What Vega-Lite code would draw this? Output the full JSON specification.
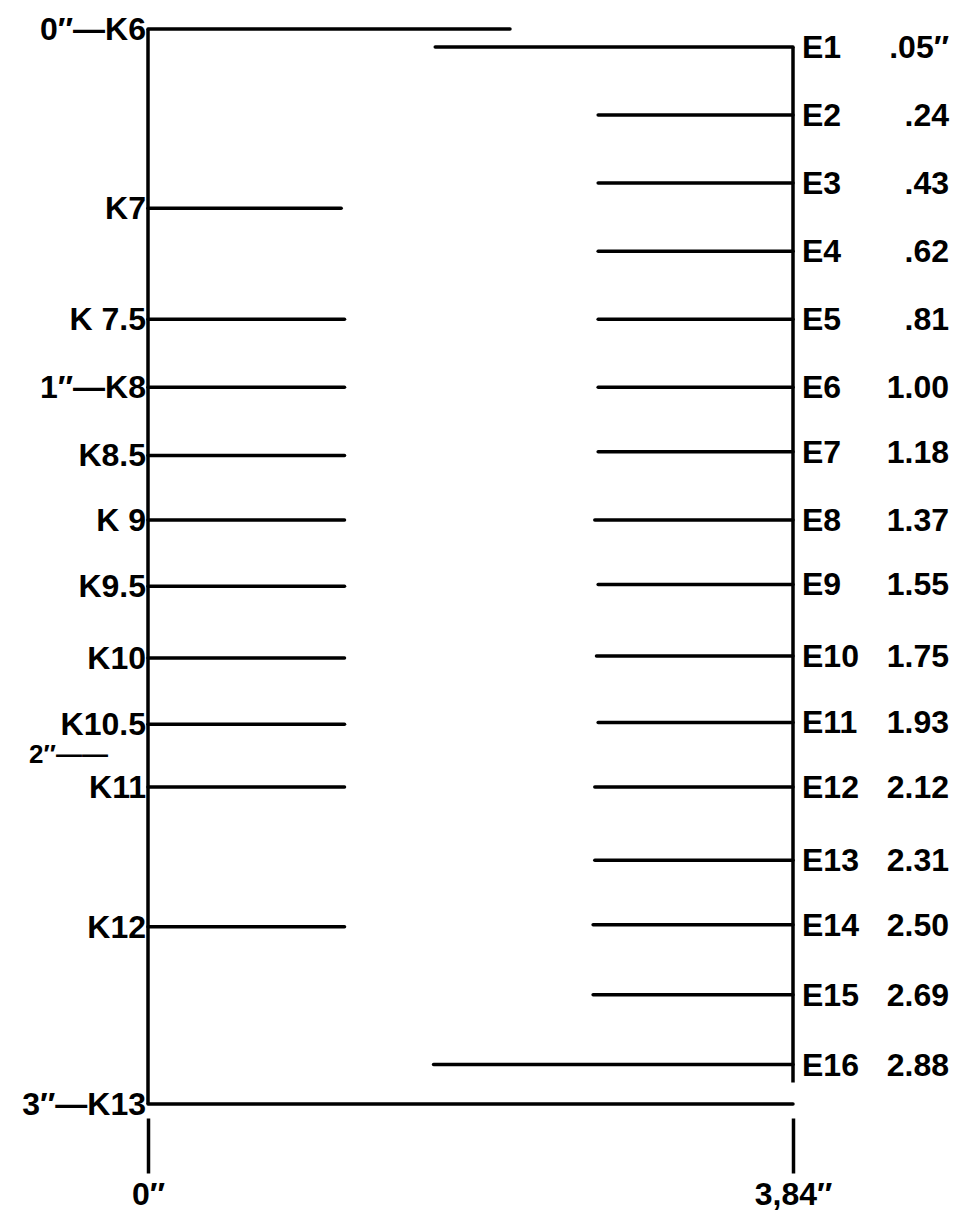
{
  "$schema": "https://vega.github.io/schema/vega-lite/v6.json",
  "autosize": {"type": "none"},
  "padding": {"left": 148, "top": 29, "right": 183, "bottom": 122},
  "width": 645,
  "height": 1075,
  "background": "white",
  "config": {
    "view": {"stroke": null},
    "text": {"font": "Liberation Sans", "fontWeight": "bold", "fontSize": 32, "color": "black", "baseline": "middle"},
    "rule": {"color": "black", "strokeWidth": 3.5}
  },
  "datasets": {
    "k": [
      {"label": "0″—K6", "y": 0, "x0": 0, "x1": 2.155},
      {"label": "K7", "y": 0.5, "x0": 0, "x1": 1.15},
      {"label": "K 7.5", "y": 0.81, "x0": 0, "x1": 1.17},
      {"label": "1″—K8", "y": 1.0, "x0": 0, "x1": 1.17},
      {"label": "K8.5", "y": 1.19, "x0": 0, "x1": 1.17},
      {"label": "K 9", "y": 1.37, "x0": 0, "x1": 1.17},
      {"label": "K9.5", "y": 1.555, "x0": 0, "x1": 1.17},
      {"label": "K10", "y": 1.755, "x0": 0, "x1": 1.17},
      {"label": "K10.5", "y": 1.94, "x0": 0, "x1": 1.17},
      {"label": "K11", "y": 2.115, "x0": 0, "x1": 1.17},
      {"label": "K12", "y": 2.505, "x0": 0, "x1": 1.17},
      {"label": "3″—K13", "y": 3.0, "x0": 0, "x1": 3.84}
    ],
    "e": [
      {"label": "E1", "value": ".05″", "y": 0.05, "x0": 1.71, "x1": 3.84},
      {"label": "E2", "value": ".24", "y": 0.24, "x0": 2.68, "x1": 3.84},
      {"label": "E3", "value": ".43", "y": 0.43, "x0": 2.68, "x1": 3.84},
      {"label": "E4", "value": ".62", "y": 0.62, "x0": 2.68, "x1": 3.84},
      {"label": "E5", "value": ".81", "y": 0.81, "x0": 2.68, "x1": 3.84},
      {"label": "E6", "value": "1.00", "y": 1.0, "x0": 2.68, "x1": 3.84},
      {"label": "E7", "value": "1.18", "y": 1.18, "x0": 2.68, "x1": 3.84},
      {"label": "E8", "value": "1.37", "y": 1.37, "x0": 2.66, "x1": 3.84},
      {"label": "E9", "value": "1.55", "y": 1.55, "x0": 2.68, "x1": 3.84},
      {"label": "E10", "value": "1.75", "y": 1.75, "x0": 2.67, "x1": 3.84},
      {"label": "E11", "value": "1.93", "y": 1.935, "x0": 2.68, "x1": 3.84},
      {"label": "E12", "value": "2.12", "y": 2.115, "x0": 2.66, "x1": 3.84},
      {"label": "E13", "value": "2.31", "y": 2.32, "x0": 2.66, "x1": 3.84},
      {"label": "E14", "value": "2.50", "y": 2.50, "x0": 2.65, "x1": 3.84},
      {"label": "E15", "value": "2.69", "y": 2.695, "x0": 2.65, "x1": 3.84},
      {"label": "E16", "value": "2.88", "y": 2.89, "x0": 1.70, "x1": 3.84}
    ],
    "frame": [
      {"x": 0, "y0": 0, "y1": 3.0},
      {"x": 3.84, "y0": 0.05, "y1": 2.94}
    ],
    "marks": [
      {"label": "2″——", "x": 0, "y": 2.0}
    ]
  },
  "layer": [
    {
      "data": {"name": "k"},
      "mark": {"type": "rule", "strokeCap": "round"},
      "encoding": {
        "x": {"field": "x0", "type": "quantitative", "scale": {"domain": [0, 3.84], "nice": false, "zero": false},
          "axis": {"orient": "bottom", "values": [0, 3.84], "offset": 14, "tickSize": 55, "tickWidth": 3.5, "tickColor": "black", "domain": false, "grid": false, "labelExpr": "datum.value == 0 ? '0″' : '3,84″'", "labelFont": "Liberation Sans", "labelFontWeight": "bold", "labelFontSize": 32, "labelColor": "black", "labelPadding": 6, "labelFlush": false, "labelOverlap": false, "title": null}},
        "x2": {"field": "x1"},
        "y": {"field": "y", "type": "quantitative", "scale": {"domain": [0, 3], "nice": false, "zero": false, "reverse": true}, "axis": null}
      }
    },
    {
      "data": {"name": "e"},
      "mark": {"type": "rule", "strokeCap": "round"},
      "encoding": {
        "x": {"field": "x0", "type": "quantitative", "title": null},
        "x2": {"field": "x1"},
        "y": {"field": "y", "type": "quantitative", "axis": null}
      }
    },
    {
      "data": {"name": "frame"},
      "mark": {"type": "rule", "strokeWidth": 3.5},
      "encoding": {
        "x": {"field": "x", "type": "quantitative", "title": null},
        "y": {"field": "y0", "type": "quantitative", "axis": null},
        "y2": {"field": "y1"}
      }
    },
    {
      "data": {"name": "k"},
      "mark": {"type": "text", "align": "right", "dx": -2, "dy": 1},
      "encoding": {
        "x": {"field": "x0", "type": "quantitative", "title": null},
        "y": {"field": "y", "type": "quantitative", "axis": null},
        "text": {"field": "label"}
      }
    },
    {
      "data": {"name": "marks"},
      "mark": {"type": "text", "align": "right", "dx": -40, "dy": 9, "fontSize": 26},
      "encoding": {
        "x": {"field": "x", "type": "quantitative", "title": null},
        "y": {"field": "y", "type": "quantitative", "axis": null},
        "text": {"field": "label"}
      }
    },
    {
      "data": {"name": "e"},
      "mark": {"type": "text", "align": "left", "dx": 9, "dy": 1},
      "encoding": {
        "x": {"field": "x1", "type": "quantitative", "title": null},
        "y": {"field": "y", "type": "quantitative", "axis": null},
        "text": {"field": "label"}
      }
    },
    {
      "data": {"name": "e"},
      "mark": {"type": "text", "align": "right", "dx": 156, "dy": 1},
      "encoding": {
        "x": {"field": "x1", "type": "quantitative", "title": null},
        "y": {"field": "y", "type": "quantitative", "axis": null},
        "text": {"field": "value"}
      }
    }
  ]
}
